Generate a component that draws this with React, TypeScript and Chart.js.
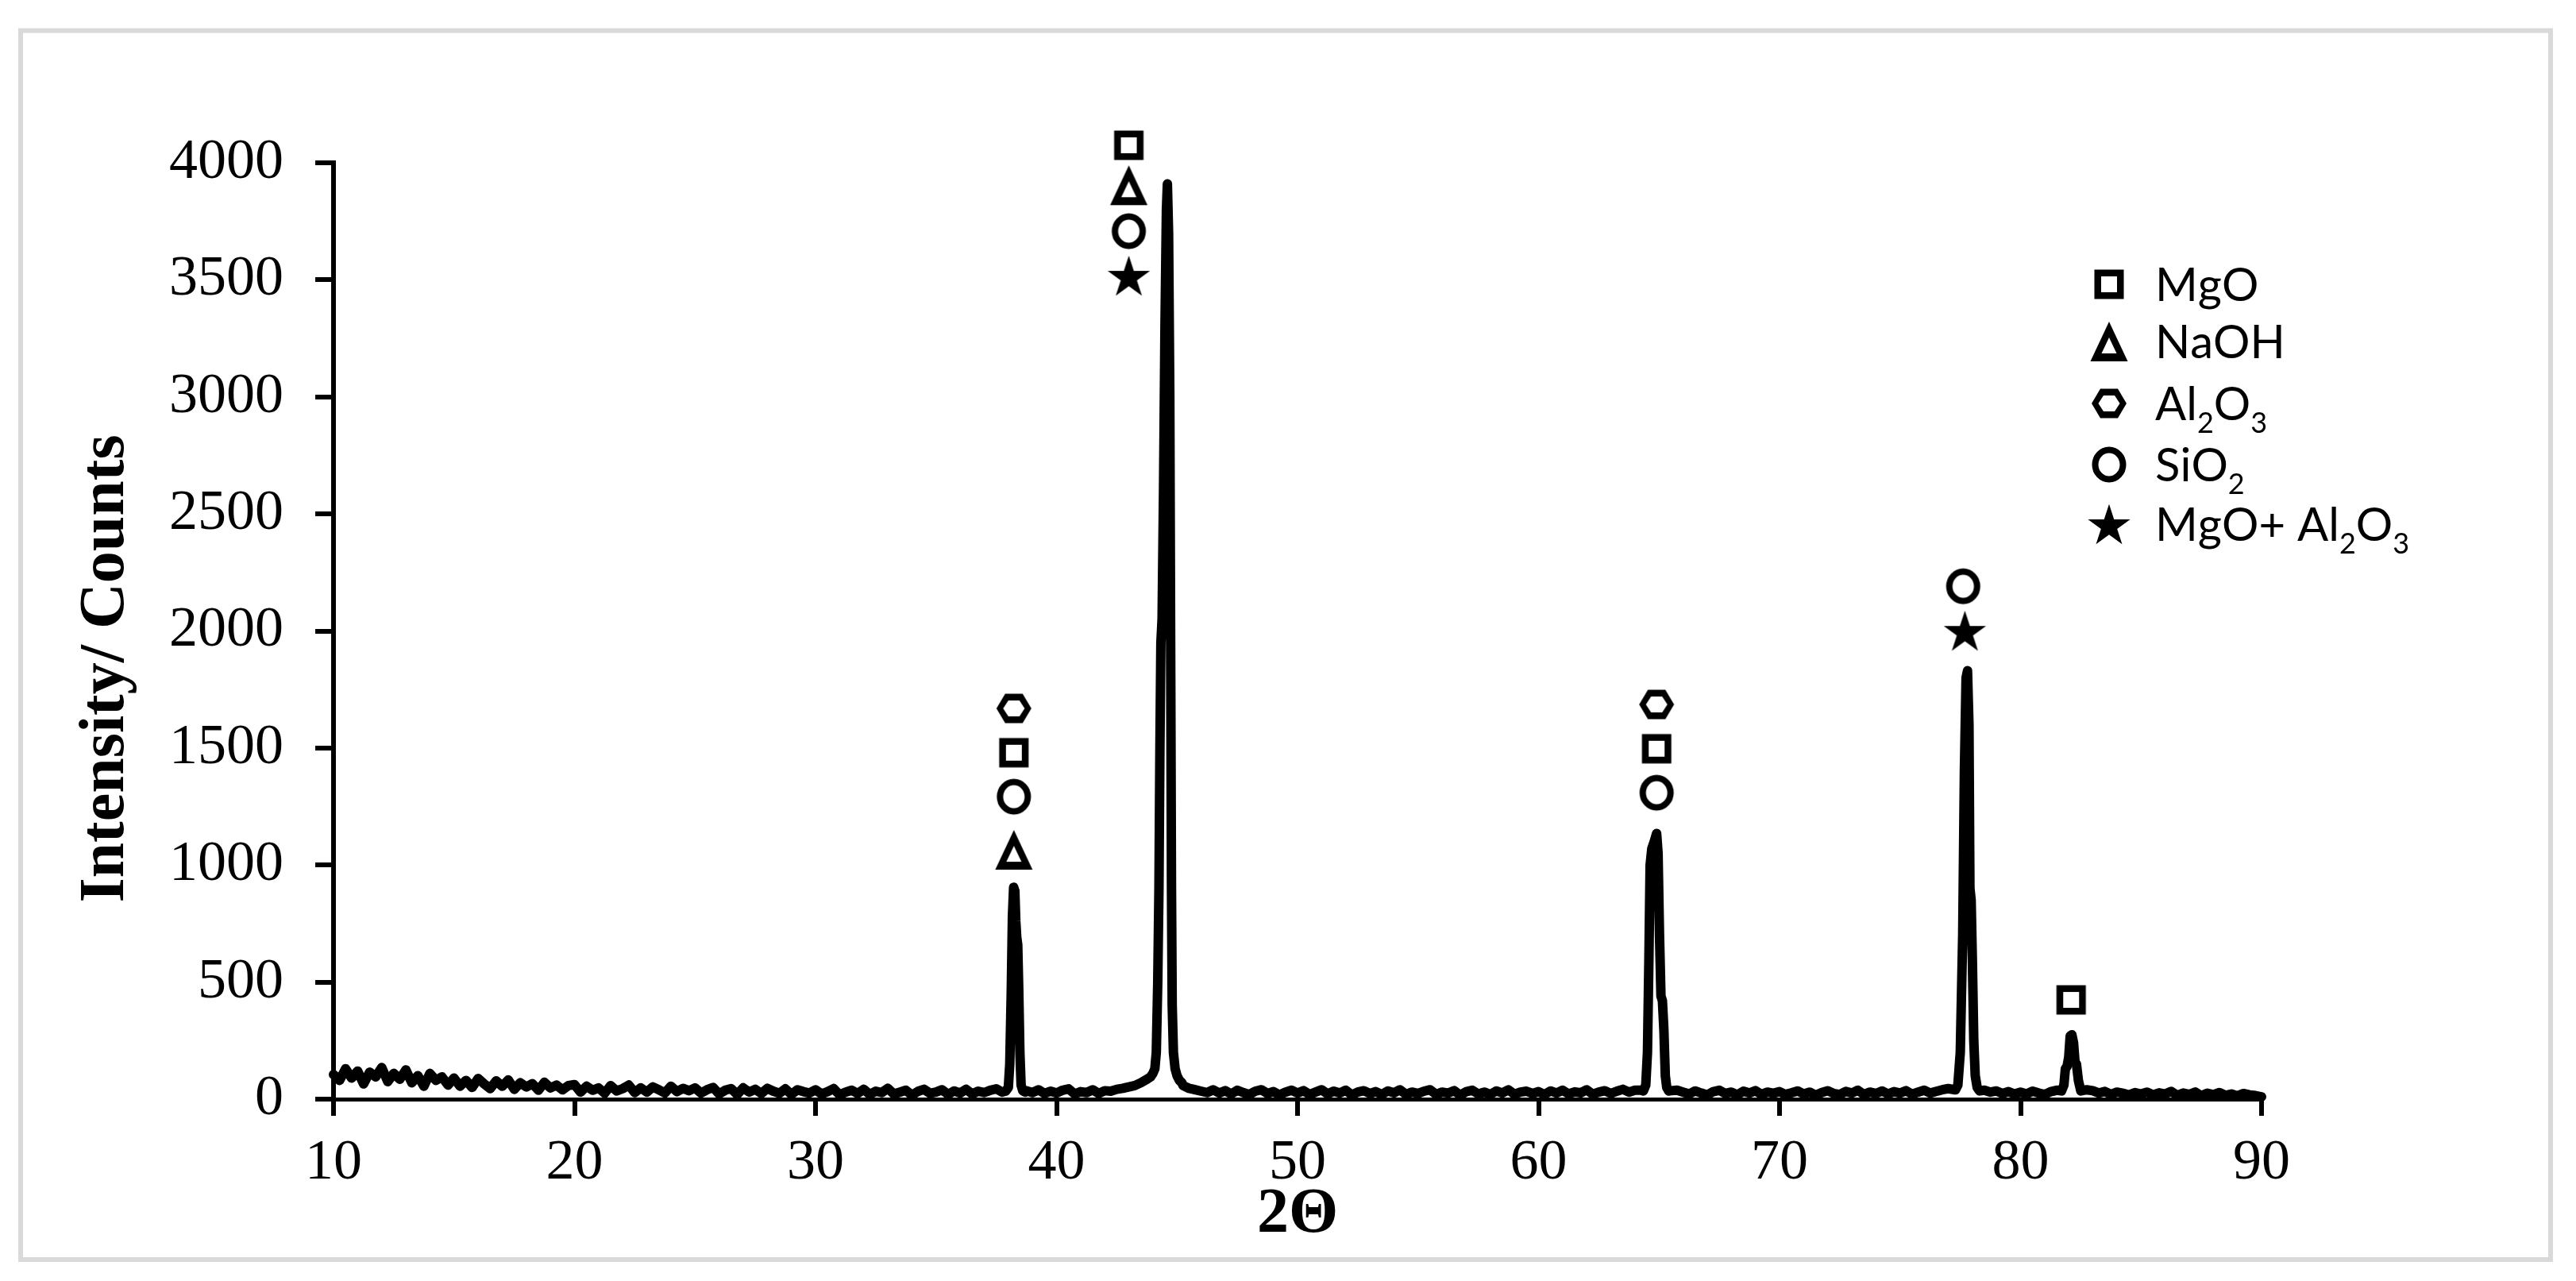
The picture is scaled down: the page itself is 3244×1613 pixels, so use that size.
import React, { useEffect, useRef } from "react";
import { Chart, registerables } from "chart.js";

Chart.register(...registerables);

// ---------- axis set-up ----------
const xMin = 10;
const xMax = 90;
const xStep = 10;
const yMin = 0;
const yMax = 4000;
const yStep = 500;
const xTitle = "2Θ";
const yTitle = "Intensity/ Counts";

// ---------- diffraction pattern: baseline read every 0.25° (2θ = 10 … 90) ----------
const baselineStart = 10;
const baselineStep = 0.25;
const baselineCounts = [
  105, 80, 130, 90, 120, 65, 115, 95, 135, 75, 110, 85, 125, 70, 100, 55, 110, 80, 95, 60,
  90, 55, 80, 50, 88, 65, 45, 78, 55, 82, 42, 70, 52, 66, 38, 72, 48, 60, 40, 58,
  62, 30, 55, 38, 48, 25, 58, 35, 45, 60, 28, 48, 30, 52, 40, 26, 55, 32, 46, 36,
  48, 26, 40, 50, 22, 38, 45, 20, 48, 30, 42, 24, 46, 34, 25, 44, 20, 40, 32, 26,
  40, 22, 32, 45, 18, 30, 38, 24, 42, 20, 34, 28, 46, 22, 30, 38, 17, 33, 42, 25,
  30, 40, 20, 35, 26, 42, 22, 34, 28, 38, 44, 30, 26, 38, 22, 36, 28, 40, 24, 34,
  26, 38, 44, 22, 32, 28, 40, 24, 36, 34, 42, 46, 52, 58, 70, 85, 95, 100, 95, 85,
  75, 58, 46, 40, 34, 28, 40, 26, 36, 22, 38, 28, 20, 34, 40, 24, 32, 18, 30, 38,
  26, 36, 20, 30, 40, 22, 34, 26, 38, 18, 30, 36, 24, 32, 20, 35, 27, 40, 20, 30,
  24, 34, 40, 20, 30, 26, 36, 17, 32, 38, 22, 30, 20, 35, 26, 40, 21, 30, 34, 24,
  32, 20, 35, 26, 38, 22, 31, 27, 40, 21, 30, 36, 24, 34, 42, 30, 38, 38, 30, 30,
  30, 30, 36, 38, 30, 22, 35, 26, 18, 32, 38, 24, 30, 18, 34, 26, 36, 20, 30, 25,
  32, 20, 27, 35, 22, 30, 17, 28, 36, 24, 20, 33, 26, 38, 20, 30, 24, 35, 22, 32,
  26, 36, 21, 30, 38, 26, 33, 40, 45, 40, 40, 40, 40, 40, 38, 30, 35, 24, 32, 22,
  30, 22, 34, 26, 20, 32, 38, 40, 40, 40, 40, 40, 36, 26, 33, 20, 30, 25, 18, 28,
  22, 30, 18, 27, 22, 33, 16, 26, 20, 30, 14, 25, 19, 28, 16, 22, 14, 24, 18, 15,
  10,
];

// ---------- peaks, read at finer steps: [2θ, counts] ----------
const peak38 = [
  [37.9, 35], [38.0, 50], [38.06, 150], [38.12, 450], [38.17, 780], [38.22, 905],
  [38.27, 890], [38.31, 760], [38.35, 690], [38.39, 660], [38.43, 480], [38.48, 200],
  [38.53, 60], [38.6, 35], [38.7, 30],
];
const peak44 = [
  [43.9, 95], [44.0, 110], [44.08, 130], [44.14, 200], [44.2, 500], [44.25, 900],
  [44.29, 1500], [44.33, 1950], [44.38, 2050], [44.44, 2600], [44.5, 3300], [44.56, 3800],
  [44.6, 3910], [44.65, 3700], [44.7, 3000], [44.74, 1800], [44.77, 900], [44.8, 400],
  [44.85, 200], [44.92, 130], [45.0, 100], [45.1, 80], [45.2, 70],
];
const peak65 = [
  [64.35, 35], [64.45, 60], [64.52, 200], [64.58, 600], [64.63, 1000], [64.7, 1070],
  [64.8, 1100], [64.9, 1135], [64.96, 1050], [65.02, 700], [65.08, 440], [65.14, 420],
  [65.2, 300], [65.26, 100], [65.32, 50], [65.4, 35],
];
const peak78 = [
  [77.3, 40], [77.4, 60], [77.5, 200], [77.6, 700], [77.67, 1400], [77.74, 1800],
  [77.8, 1830], [77.86, 1600], [77.9, 900], [77.95, 850], [78.0, 600], [78.06, 250],
  [78.12, 100], [78.2, 50], [78.3, 35],
];
const peak82 = [
  [81.7, 35], [81.8, 60], [81.86, 130], [81.93, 140], [82.0, 180], [82.06, 270],
  [82.13, 275], [82.2, 240], [82.26, 160], [82.32, 150], [82.4, 80], [82.5, 35],
];

// ---------- phase identification markers: [2θ, counts] ----------
const phaseNames = ["MgO", "NaOH", "Al₂O₃", "SiO₂", "MgO+ Al₂O₃"];
const phaseShapes = ["square", "triangle", "hexagon", "circle", "star"];
const mgoMarks = [[43.0, 4075], [38.23, 1480], [64.9, 1497], [82.1, 424]];
const naohMarks = [[43.0, 3904], [38.23, 1065]];
const al2o3Marks = [[38.23, 1669], [64.9, 1686]];
const sio2Marks = [[43.0, 3708], [38.23, 1292], [64.9, 1309], [77.62, 2191]];
const mixMarks = [[43.0, 3518], [77.69, 2001]];
const phaseMarks = [mgoMarks, naohMarks, al2o3Marks, sio2Marks, mixMarks];

const peaks = [peak38, peak44, peak65, peak78, peak82];

function buildPattern() {
  const pts: { x: number; y: number }[] = [];
  baselineCounts.forEach((c, i) => {
    const x = +(baselineStart + i * baselineStep).toFixed(2);
    if (peaks.some((p) => x >= p[0][0] && x <= p[p.length - 1][0])) return;
    pts.push({ x, y: c });
  });
  peaks.forEach((p) => p.forEach(([x, y]) => pts.push({ x, y })));
  pts.sort((a, b) => a.x - b.x);
  return pts;
}

function makeMarker(kind: string): HTMLCanvasElement {
  const c = document.createElement("canvas");
  c.width = 64;
  c.height = 64;
  const g = c.getContext("2d")!;
  g.translate(32, 32);
  g.fillStyle = "#000";
  g.strokeStyle = "#000";
  const poly = (pts: number[][]) => {
    g.beginPath();
    pts.forEach(([x, y], i) => (i ? g.lineTo(x, y) : g.moveTo(x, y)));
    g.closePath();
    g.fill();
  };
  if (kind === "square") {
    g.lineWidth = 8.5;
    g.strokeRect(-14.25, -14.25, 28.5, 28.5);
  } else if (kind === "triangle") {
    poly([[0, -25], [23.5, 25], [-23.5, 25]]);
    g.globalCompositeOperation = "destination-out";
    poly([[0, -5], [9.5, 15], [-9.5, 15]]);
  } else if (kind === "hexagon") {
    poly([[-22, 0], [-11, -18.5], [11, -18.5], [22, 0], [11, 18.5], [-11, 18.5]]);
    g.globalCompositeOperation = "destination-out";
    poly([[-13.5, 0], [-7, -10], [7, -10], [13.5, 0], [7, 10], [-7, 10]]);
  } else if (kind === "circle") {
    g.lineWidth = 8;
    g.beginPath();
    g.ellipse(0, 0, 17.5, 18.5, 0, 0, Math.PI * 2);
    g.stroke();
  } else {
    const R = 28;
    const r = 10.7;
    const cy = (R * (1 - Math.cos(Math.PI / 5))) / 2;
    const pts: number[][] = [];
    for (let i = 0; i < 10; i++) {
      const a = -Math.PI / 2 + (i * Math.PI) / 5;
      const rad = i % 2 === 0 ? R : r;
      pts.push([rad * Math.cos(a), cy + rad * Math.sin(a)]);
    }
    poly(pts);
  }
  return c;
}

const serif = '"Liberation Serif", "Times New Roman", serif';
const sans = 'Lato, "Open Sans", sans-serif';

function drawRich(ctx: CanvasRenderingContext2D, text: string, x: number, baseline: number, size: number) {
  const subs = "₀₁₂₃₄₅₆₇₈₉";
  let cx = x;
  for (const ch of text) {
    const k = subs.indexOf(ch);
    if (k >= 0) {
      ctx.font = `${Math.round(size * 0.62)}px ${sans}`;
      ctx.fillText(String(k), cx, baseline + size * 0.28);
      cx += ctx.measureText(String(k)).width;
    } else {
      ctx.font = `${size}px ${sans}`;
      ctx.fillText(ch, cx, baseline);
      cx += ctx.measureText(ch).width;
    }
  }
}

export default function App() {
  const ref = useRef<HTMLCanvasElement>(null);

  useEffect(() => {
    document.body.style.margin = "0";
    document.body.style.overflow = "hidden";
    const canvas = ref.current!;
    const markerImgs = phaseShapes.map((s) => makeMarker(s));

    const framePlugin = {
      id: "frame",
      beforeDraw(chart: any) {
        const ctx = chart.ctx;
        ctx.save();
        ctx.fillStyle = "#fff";
        ctx.fillRect(0, 0, chart.width, chart.height);
        ctx.strokeStyle = "#d9d9d9";
        ctx.lineWidth = 6;
        ctx.strokeRect(26, 38.5, 3186, 1547.5);
        ctx.restore();
      },
    };

    const overlayPlugin = {
      id: "overlay",
      afterDraw(chart: any) {
        const ctx = chart.ctx;
        ctx.save();
        // y-axis title
        ctx.translate(134, 842);
        ctx.rotate(-Math.PI / 2);
        ctx.fillStyle = "#000";
        ctx.font = `bold 80px ${serif}`;
        ctx.textAlign = "center";
        ctx.textBaseline = "middle";
        ctx.fillText(yTitle, 0, 0);
        ctx.restore();

        // legend
        const rowsY = [358, 430, 508, 585, 660];
        ctx.save();
        ctx.fillStyle = "#000";
        ctx.textAlign = "left";
        ctx.textBaseline = "alphabetic";
        phaseNames.forEach((name, i) => {
          const img = markerImgs[i];
          ctx.drawImage(img, 2656 - img.width / 2, rowsY[i] - img.height / 2);
          drawRich(ctx, name, 2714, rowsY[i] + 21, 58);
        });
        ctx.restore();
      },
    };

    const datasets: any[] = [
      {
        type: "line",
        label: "XRD pattern",
        data: buildPattern(),
        borderColor: "#000",
        borderWidth: 12,
        borderJoinStyle: "round",
        borderCapStyle: "round",
        pointRadius: 0,
        tension: 0,
        clip: false,
        order: 2,
      },
      ...phaseMarks.map((marks, i) => ({
        type: "scatter",
        label: phaseNames[i],
        data: marks.map(([x, y]) => ({ x, y })),
        pointStyle: markerImgs[i],
        pointRadius: 30,
        pointBorderWidth: 0,
        showLine: false,
        clip: false,
        order: 1,
      })),
    ];

    const chart = new Chart(canvas, {
      type: "line",
      data: { datasets },
      options: {
        animation: false,
        responsive: false,
        devicePixelRatio: 1,
        layout: { padding: { left: 0, right: 396, top: 205, bottom: 0 } },
        plugins: { legend: { display: false }, tooltip: { enabled: false } },
        scales: {
          x: {
            type: "linear",
            min: xMin,
            max: xMax,
            ticks: {
              stepSize: xStep,
              color: "#000",
              padding: 17,
              font: { family: serif, size: 72 },
              callback: (v: any) => String(v),
            },
            grid: {
              display: true,
              drawOnChartArea: false,
              drawTicks: true,
              tickLength: 21,
              tickWidth: 6,
              tickColor: "#000",
              color: "#000",
              lineWidth: 6,
            },
            border: { display: true, color: "#000", width: 5 },
            title: {
              display: true,
              text: xTitle,
              color: "#000",
              font: { family: serif, size: 80, weight: "bold" },
              padding: { top: 0, bottom: 35 },
            },
            afterFit: (s: any) => {
              s.height = 229;
            },
          },
          y: {
            type: "linear",
            min: yMin,
            max: yMax,
            ticks: {
              stepSize: yStep,
              color: "#000",
              padding: 40,
              font: { family: serif, size: 72 },
              callback: (v: any) => String(v),
            },
            grid: {
              display: true,
              drawOnChartArea: false,
              drawTicks: true,
              tickLength: 23,
              tickWidth: 6,
              tickColor: "#000",
              color: "#000",
              lineWidth: 6,
            },
            border: { display: true, color: "#000", width: 6 },
            afterFit: (s: any) => {
              s.width = 420;
            },
          },
        },
      } as any,
      plugins: [framePlugin, overlayPlugin],
    });

    return () => chart.destroy();
  }, []);

  return <canvas ref={ref} width={3244} height={1613} style={{ display: "block" }} />;
}
